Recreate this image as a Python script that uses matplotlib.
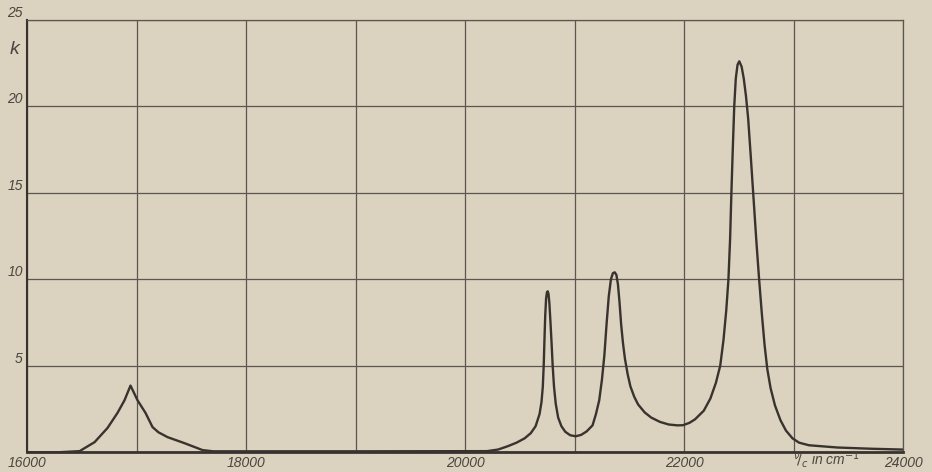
import matplotlib
matplotlib.use('Agg')
import matplotlib.pyplot as plt

# wavenumber (cm^-1) and absorption coefficient k along the curve
wavenumber = [16000, 16300, 16480, 16617, 16735, 16826, 16890, 16945, 17009,
              17082, 17146, 17200, 17283, 17438, 17603, 17700, 19000, 20200,
              20300, 20388, 20470, 20544, 20600, 20644, 20680, 20698, 20710,
              20718, 20725, 20732, 20740, 20748, 20755, 20762, 20770, 20780,
              20790, 20800, 20812, 20828, 20850, 20880, 20915, 20960, 21010,
              21060, 21110, 21164, 21195, 21225, 21250, 21272, 21292, 21312,
              21332, 21350, 21367, 21382, 21396, 21410, 21425, 21442, 21460,
              21485, 21510, 21545, 21580, 21640, 21700, 21780, 21860, 21940,
              21991, 22050, 22100, 22180, 22240, 22290, 22330, 22360, 22385,
              22405, 22420, 22432, 22445, 22458, 22472, 22488, 22504, 22525,
              22545, 22565, 22585, 22610, 22635, 22660, 22685, 22710, 22735,
              22760, 22790, 22830, 22880, 22930, 22990, 23050, 23140, 23400,
              23700, 24000]
k_values = [0.0, 0.0, 0.06, 0.58, 1.4, 2.27, 3.0, 3.85, 3.0,
            2.27, 1.45, 1.15, 0.87, 0.52, 0.12, 0.05, 0.05, 0.06,
            0.15, 0.34, 0.55, 0.8, 1.1, 1.5, 2.2, 2.9, 3.8,
            5.0, 6.5, 7.9, 8.9, 9.25, 9.3, 9.15, 8.6, 7.5,
            6.3, 5.0, 3.8, 2.8, 2.0, 1.5, 1.18, 0.98, 0.92,
            1.0, 1.2, 1.55, 2.2, 3.0, 4.2, 5.6, 7.4, 9.0,
            10.0, 10.35, 10.4, 10.25, 9.7, 8.7, 7.4, 6.3, 5.4,
            4.5, 3.8, 3.2, 2.76, 2.3, 2.0, 1.75, 1.6, 1.55,
            1.56, 1.7, 1.9, 2.4, 3.1, 4.0, 5.0, 6.5, 8.2,
            10.0, 12.3, 15.0, 17.6, 20.0, 21.6, 22.4, 22.6, 22.3,
            21.6, 20.6, 19.3, 17.0, 14.6, 12.2, 10.0, 8.0, 6.2,
            4.8, 3.7, 2.7, 1.85, 1.25, 0.8, 0.55, 0.4, 0.27,
            0.2, 0.15]

x_ticks = [16000, 17000, 18000, 19000, 20000, 21000, 22000, 23000, 24000]
x_labels = ['16000', '', '18000', '', '20000', '', '22000', '', '24000']
y_ticks = [0, 5, 10, 15, 20, 25]
y_labels = ['', '5', '10', '15', '20', '25']

paper = '#dbd2bf'
ink = '#38332e'
grid_ink = '#5b564f'
label_ink = '#4a453f'

fig = plt.figure(figsize=(9.32, 4.72), dpi=100, facecolor=paper)
ax = fig.add_axes([0.029, 0.042, 0.94, 0.916])
ax.set_facecolor(paper)

ax.plot(wavenumber, k_values, color=ink, lw=1.7, solid_joinstyle='round',
        solid_capstyle='round', zorder=3)

ax.set_xlim(16000, 24000)
ax.set_ylim(0, 25)
ax.set_xticks(x_ticks)
ax.set_xticklabels(x_labels)
ax.set_yticks(y_ticks)
ax.set_yticklabels(y_labels)
ax.grid(True, color=grid_ink, lw=0.9)
ax.tick_params(length=0, pad=3, labelcolor=label_ink, labelsize=10)

for lab in ax.get_xticklabels() + ax.get_yticklabels():
    lab.set_fontstyle('italic')
    lab.set_fontfamily('Liberation Sans')
for lab in ax.get_yticklabels():
    lab.set_verticalalignment('bottom')

for side in ['top', 'right']:
    ax.spines[side].set_color(grid_ink)
    ax.spines[side].set_linewidth(0.9)
ax.spines['left'].set_color(ink)
ax.spines['left'].set_linewidth(1.5)
ax.spines['bottom'].set_color(ink)
ax.spines['bottom'].set_linewidth(2.0)

# axis names written in the frame margins
ax.text(-0.014, 23.3, 'k', transform=ax.get_yaxis_transform(),
        ha='center', va='center', fontsize=14, fontstyle='italic',
        family='Liberation Sans', color=label_ink)
ax.text(22990, -0.016, r'$^{\nu}\!/_{c}$ in cm$^{-1}$',
        transform=ax.get_xaxis_transform(), ha='left', va='center',
        fontsize=10, fontstyle='italic', family='Liberation Sans',
        color=label_ink)

fig.savefig('out.png', dpi=100, facecolor=paper)
